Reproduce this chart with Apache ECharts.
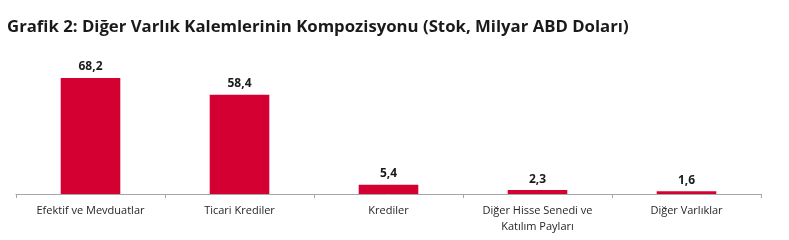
<!DOCTYPE html>
<html><head><meta charset="utf-8">
<script src="https://cdn.jsdelivr.net/npm/echarts@6/dist/echarts.min.js"></script>
<style>html,body{margin:0;padding:0;background:#fff}#c{width:789px;height:240px}</style>
</head><body><div id="c"></div>
<script>
const categories = ["Efektif ve Mevduatlar", "Ticari Krediler", "Krediler", "Diğer Hisse Senedi ve\nKatılım Payları", "Diğer Varlıklar"];
const values = [68.2, 58.4, 5.4, 2.3, 1.6];
const titleText = "Grafik 2: Diğer Varlık Kalemlerinin Kompozisyonu (Stok, Milyar ABD Doları)";

const chart = echarts.init(document.getElementById('c'), null, {renderer: 'canvas'});
chart.setOption({
  animation: false,
  title: {
    text: titleText, left: 2, top: 14, padding: 5,
    textStyle: {fontFamily: "Open Sans", fontWeight: "bold", fontSize: 16.75, color: "#1a1a1a"}
  },
  grid: {left: 16, right: 28, top: 58, bottom: 46},
  xAxis: {
    type: 'category', data: categories,
    axisLine: {lineStyle: {color: '#a6a6a6', width: 1}},
    axisTick: {show: true, length: 4, lineStyle: {color: '#a6a6a6'}},
    axisLabel: {fontFamily: "Open Sans", fontSize: 11, color: '#262626', margin: 9, lineHeight: 16, interval: 0}
  },
  yAxis: {type: 'value', min: 0, max: 80, show: false, splitLine: {show: false}},
  series: [{
    type: 'bar', data: values, barWidth: '40%',
    itemStyle: {color: '#d40032'},
    label: {
      show: true, position: 'top', distance: 5,
      fontFamily: "Open Sans", fontWeight: 'bold', fontSize: 12, color: '#1a1a1a',
      formatter: p => String(p.value).replace('.', ',')
    }
  }]
});
</script></body></html>
